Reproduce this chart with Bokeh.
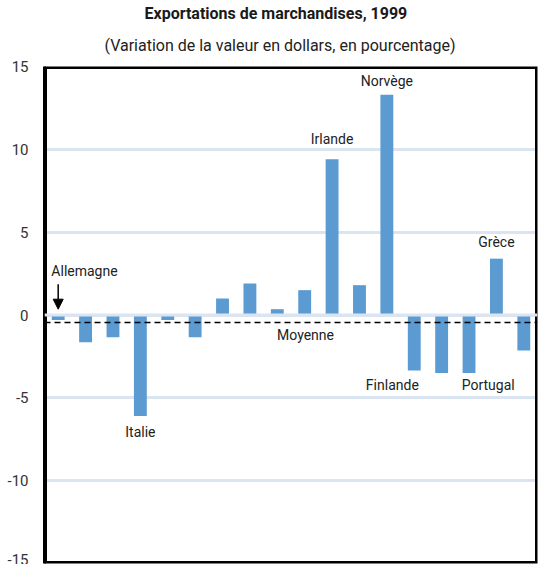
from bokeh.plotting import figure
from bokeh.models import (Range1d, FixedTicker, Span, Label, Arrow,
                          NormalHead, Title, ColumnDataSource)
from bokeh.embed import file_html
from bokeh.resources import INLINE

# ---- data ----
countries = ["Allemagne", "Pays 2", "Pays 3", "Italie", "Pays 5", "Pays 6",
             "Pays 7", "Pays 8", "Pays 9", "Pays 10", "Irlande", "Pays 12",
             "Norvège", "Finlande", "Pays 15", "Portugal", "Grèce", "Pays 18"]
values = [-0.3, -1.65, -1.35, -6.1, -0.3, -1.35, 1.0, 1.9, 0.35, 1.5,
          9.4, 1.8, 13.3, -3.35, -3.5, -3.5, 3.4, -2.15]
mean_value = -0.45
tick_values = [-15, -10, -5, 0, 5, 10, 15]
tick_labels = ["-15", "-10", "-5", "0", "5", "10", "15"]
y_min, y_max = -15, 15

FONT = "Roboto"
BAR = "#5b9bd1"
GRID = "#dbe5f1"

n = len(values)
xs = list(range(1, n + 1))
src = ColumnDataSource(dict(x=xs, top=values, name=countries))

p = figure(width=538, height=564, output_backend="svg", toolbar_location=None,
           x_range=Range1d(0.5, n + 0.5), y_range=Range1d(y_min, y_max),
           x_axis_location=None, title="Exportations de marchandises, 1999",
           min_border_left=44, min_border_right=1, min_border_bottom=1, min_border_top=66)

p.title.align = "left"
p.title.offset = 100
p.title.text_font = FONT
p.title.text_font_size = "16px"
p.title.text_font_style = "bold"
p.title.text_color = "#1a1a1a"
p.title.standoff = 0
p.add_layout(Title(text="(Variation de la valeur en dollars, en pourcentage)", align="left",
                   offset=60, text_font=FONT, text_font_size="16px",
                   text_font_style="normal", text_color="#222222", standoff=23), "above")

p.outline_line_color = None
p.xgrid.visible = False
p.ygrid.grid_line_color = GRID
p.ygrid.grid_line_width = 3
p.yaxis.ticker = FixedTicker(ticks=tick_values)
p.yaxis.major_label_overrides = {v: s for v, s in zip(tick_values, tick_labels)}
p.yaxis.major_label_text_font = FONT
p.yaxis.major_label_text_font_size = "15px"
p.yaxis.major_label_text_color = "#333333"
p.yaxis.major_tick_line_color = None
p.yaxis.minor_tick_line_color = None
p.yaxis.axis_line_color = "black"
p.yaxis.axis_line_width = 3
p.yaxis.major_label_standoff = 10

p.vbar(x="x", top="top", bottom=0, width=0.47, source=src,
       fill_color=BAR, line_color=None)

p.add_layout(Span(location=0, dimension="width", line_color=GRID, line_width=3))
p.add_layout(Span(location=mean_value, dimension="width", line_color="black",
                  line_width=1.5, line_dash="6 4"))

# frame border
p.rect(x=(n + 1) / 2, y=(y_min + y_max) / 2, width=n, height=y_max - y_min,
       fill_alpha=0, line_color="black", line_width=5)

def lab(x, y, text, align="center", baseline="middle"):
    p.add_layout(Label(x=x, y=y, text=text, text_font=FONT, text_font_size="14px",
                       text_color="#222222", text_align=align, text_baseline=baseline))

lab(0.75, 2.65, "Allemagne", align="left")
lab(4, -7.05, "Italie")
lab(10.03, -1.2, "Moyenne")
lab(11, 10.6, "Irlande")
lab(13, 14.1, "Norvège")
lab(13.2, -4.2, "Finlande")
lab(16.7, -4.2, "Portugal")
lab(17, 4.4, "Grèce")

p.add_layout(Arrow(x_start=1, y_start=1.85, x_end=1, y_end=0.35,
                   line_color="black", line_width=1.5,
                   end=NormalHead(size=10, fill_color="black", line_color="black")))

open("out.html", "w").write(file_html(p, INLINE))
